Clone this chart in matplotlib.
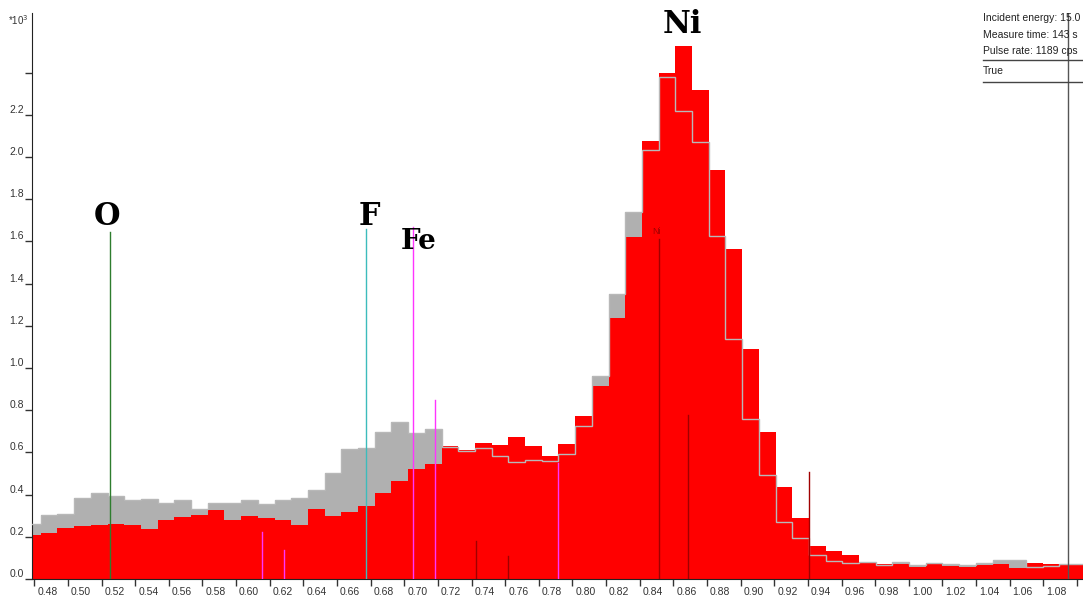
# EDS spectrum around the Ni L region, red = measured, gray = reference
import numpy as np
import matplotlib
matplotlib.use("Agg")
import matplotlib.pyplot as plt
import matplotlib.transforms as mtrans

plt.rcParams['font.family'] = ['Liberation Sans', 'DejaVu Sans']

# channel grid (keV)
first_edge = 0.4739
bin_w = 0.00993

# counts in units of 10^3, one value per channel
red_counts = [0.208, 0.220, 0.242, 0.250, 0.254, 0.259, 0.254, 0.237, 0.281, 0.292,
              0.302, 0.327, 0.281, 0.298, 0.289, 0.281, 0.256, 0.332, 0.297, 0.319,
              0.344, 0.408, 0.466, 0.521, 0.547, 0.632, 0.611, 0.643, 0.635, 0.673,
              0.632, 0.584, 0.640, 0.771, 0.916, 1.238, 1.619, 2.078, 2.397, 2.528,
              2.317, 1.938, 1.564, 1.088, 0.697, 0.434, 0.287, 0.156, 0.131, 0.114,
              0.082, 0.073, 0.073, 0.057, 0.074, 0.063, 0.055, 0.065, 0.070, 0.054,
              0.074, 0.070, 0.070, 0.070]
gray_counts = [0.262, 0.302, 0.310, 0.385, 0.408, 0.393, 0.373, 0.381, 0.360, 0.373,
               0.333, 0.360, 0.360, 0.373, 0.357, 0.373, 0.382, 0.420, 0.504, 0.615,
               0.622, 0.698, 0.746, 0.692, 0.711, 0.625, 0.608, 0.622, 0.583, 0.553,
               0.562, 0.558, 0.592, 0.724, 0.961, 1.351, 1.738, 2.033, 2.380, 2.217,
               2.072, 1.628, 1.137, 0.759, 0.495, 0.272, 0.192, 0.112, 0.087, 0.074,
               0.082, 0.065, 0.079, 0.068, 0.074, 0.071, 0.065, 0.076, 0.089, 0.089,
               0.058, 0.063, 0.070, 0.070]

# element marker lines
line_energy = [0.525, 0.677, 0.705, 0.7185, 0.7915, 0.6154, 0.6285,
               0.7426, 0.7616, 0.8514, 0.8687, 0.9406, 1.0949]
line_height = [1.645, 1.66, 1.67, 0.848, 0.55, 0.224, 0.137,
               0.18, 0.11, 1.61, 0.776, 0.509, 2.684]
line_color = ['#2e7d2e', '#3cbcbc', '#ff33ff', '#ff33ff', '#ff33ff', '#ff33ff', '#ff33ff',
              '#a00000', '#a00000', '#a00000', '#a00000', '#a00000', '#555555']

# big element labels: (text, energy, height)
labels = [('O', 0.5235, 1.72), ('F', 0.6795, 1.72), ('Fe', 0.7085, 1.60), ('Ni', 0.8655, 2.63)]

info_lines = ['Incident energy: 15.0 keV', 'Measure time: 143 s', 'Pulse rate: 1189 cps']

n = len(red_counts)
edges = first_edge + bin_w * np.arange(n + 1)

fig = plt.figure(figsize=(10.83, 5.96), dpi=100)
ax = fig.add_axes([32 / 1083, 17 / 596, 1 - 32 / 1083, (579 - 12.7) / 596])

ax.bar(edges[:-1], gray_counts, width=bin_w, align='edge', color='#b0b0b0', lw=0, zorder=1)
ax.bar(edges[:-1], red_counts, width=bin_w, align='edge', color='#ff0000', lw=0, zorder=2)
ax.stairs(gray_counts, edges, baseline=None, color='#b8b8b8', lw=1, zorder=3)

for e, h, c in zip(line_energy, line_height, line_color):
    ax.plot([e, e], [0, h], color=c, lw=1, zorder=4)

for txt, e, h in labels:
    fs = 20 if txt == 'Fe' else 22
    ax.text(e, h, txt, family='DejaVu Serif', fontweight='bold', fontsize=fs,
            ha='center', va='center', zorder=5)
ax.text(0.8500, 1.645, 'Ni', color='#a00000', fontsize=6.5, ha='center', va='center', zorder=5)

ax.set_xlim(0.47863, 1.1036)
ax.set_ylim(0, 2.684)

xt = np.round(np.arange(0.48, 1.101, 0.02), 2)
ax.set_xticks(xt)
ax.set_xticklabels(['%.2f' % v if v < 1.09 else '' for v in xt])
yt = np.round(np.arange(0, 2.41, 0.2), 1)
ax.set_yticks(yt)
ax.set_yticklabels(['%.1f' % v if v < 2.3 else '' for v in yt])
ax.tick_params(labelsize=7.5, length=5, width=1, pad=1, colors='#333333')

dx = mtrans.ScaledTranslation(3 / 100, 0, fig.dpi_scale_trans)
for lab in ax.get_xticklabels():
    lab.set_horizontalalignment('left')
    lab.set_transform(lab.get_transform() + dx)
for lab in ax.get_yticklabels():
    lab.set_verticalalignment('bottom')

for s in ['top', 'right']:
    ax.spines[s].set_visible(False)
ax.spines['left'].set_color('#222222')
ax.spines['bottom'].set_color('#222222')

fig.text(8 / 1083, 1 - 20 / 596, r'*10$^3$', fontsize=7, va='center', color='#333333')

# info box at top right
for i, t in enumerate(info_lines):
    fig.text(983 / 1083, 1 - (18 + i * 16.5) / 596, t, fontsize=7.5, va='center', color='#222222')
fig.text(983 / 1083, 1 - 71 / 596, 'True', fontsize=7.5, va='center', color='#222222')
for yy in [60, 82]:
    fig.add_artist(plt.Line2D([983 / 1083, 1], [1 - yy / 596, 1 - yy / 596],
                              color='#444444', lw=1))

fig.savefig('out.png', dpi=100)
